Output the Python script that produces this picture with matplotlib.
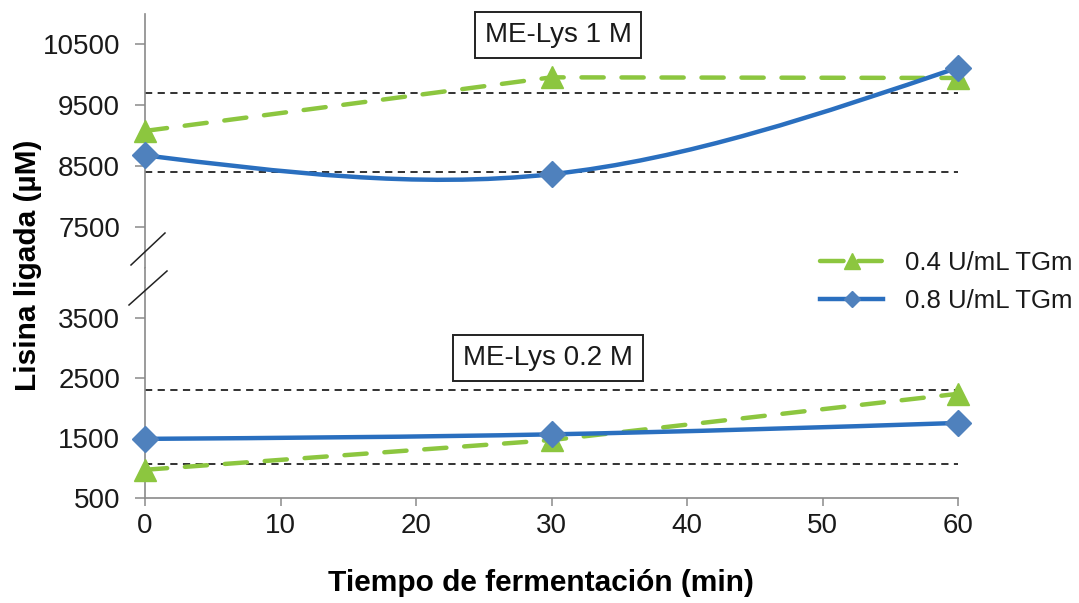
import matplotlib
matplotlib.use("Agg")
import matplotlib.pyplot as plt
from matplotlib.path import Path
from matplotlib.patches import PathPatch
from matplotlib.lines import Line2D

plt.rcParams['font.family'] = ['Liberation Sans', 'DejaVu Sans']

# fermentation time (min)
tiempo = [0, 30, 60]

# ME-Lys 1 M (upper panel)
alta_04 = [9080, 9960, 9950]
alta_08 = [8680, 8370, 10120]
ref_alta = [9710, 8400]

# ME-Lys 0.2 M (lower panel)
baja_04 = [970, 1465, 2235]
baja_08 = [1485, 1560, 1750]
ref_baja = [2300, 1065]

ticks_alta = [7500, 8500, 9500, 10500]
ticks_baja = [500, 1500, 2500, 3500]
xticks = [0, 10, 20, 30, 40, 50, 60]

verde = '#8cc63f'
azul = '#2a6fbf'
azul_marca = '#4f81bd'
gris = '#8a8a8a'

W, H = 1079, 603
fig = plt.figure(figsize=(W / 100, H / 100), dpi=100)


def fx(px):
    return px / W


def fy(py):
    return 1 - py / H


x0, x1 = 145, 958
ax_top = fig.add_axes([fx(x0), fy(268), fx(x1 - x0), (268 - 14) / H])
ax_bot = fig.add_axes([fx(x0), fy(498), fx(x1 - x0), (498 - 268) / H])


def suave(ax, xs, ys, **kw):
    # smoothed line: cubic Bezier segments, Catmull-Rom tangents inside,
    # zero curvature at both ends
    pts = list(zip(xs, ys))
    n = len(pts)
    tang = []
    for i in range(1, n - 1):
        tang.append(((pts[i + 1][0] - pts[i - 1][0]) / 6,
                     (pts[i + 1][1] - pts[i - 1][1]) / 6))
    verts = [pts[0]]
    codes = [Path.MOVETO]
    for i in range(n - 1):
        p1, p2 = pts[i], pts[i + 1]
        c1 = c2 = None
        if i > 0:
            t = tang[i - 1]
            c1 = (p1[0] + t[0], p1[1] + t[1])
        if i + 1 < n - 1:
            t = tang[i]
            c2 = (p2[0] - t[0], p2[1] - t[1])
        if c1 is None:
            c1 = ((p1[0] + c2[0]) / 2, (p1[1] + c2[1]) / 2)
        if c2 is None:
            c2 = ((p2[0] + c1[0]) / 2, (p2[1] + c1[1]) / 2)
        verts += [c1, c2, p2]
        codes += [Path.CURVE4] * 3
    ax.add_patch(PathPatch(Path(verts, codes), fill=False, **kw))


def panel(ax, s04, s08, refs):
    for r in refs:
        ax.axhline(r, color='#222222', lw=1.3, ls=(0, (4, 3)), zorder=1)
    ax.plot(tiempo, s04, color=verde, lw=3.2, ls=(0, (5, 4)),
            dash_capstyle='round', marker='^', ms=16, mec=verde,
            clip_on=False, zorder=3)
    suave(ax, tiempo, s08, edgecolor=azul, lw=3.2, capstyle='round', zorder=4)
    ax.plot(tiempo, s08, ls='none', marker='D', ms=13, color=azul_marca,
            mec=azul_marca, clip_on=False, zorder=5)
    ax.set_xlim(0, 60)
    for s in ['top', 'right']:
        ax.spines[s].set_visible(False)
    for s in ['left', 'bottom']:
        ax.spines[s].set_color(gris)
        ax.spines[s].set_linewidth(1.2)
    ax.tick_params(axis='y', length=7, width=1.1, color=gris, pad=11,
                   labelsize=20, labelcolor='#1a1a1a')
    ax.tick_params(axis='x', length=6, width=1.1, color=gris, pad=5,
                   labelsize=20, labelcolor='#1a1a1a')


panel(ax_top, alta_04, alta_08, ref_alta)
panel(ax_bot, baja_04, baja_08, ref_baja)

ax_top.set_ylim(6830, 11000)
ax_top.set_yticks(ticks_alta)
ax_top.spines['bottom'].set_visible(False)
ax_top.tick_params(axis='x', bottom=False, labelbottom=False)

ax_bot.set_ylim(500, 4330)
ax_bot.set_yticks(ticks_baja)
ax_bot.set_xticks(xticks)

caja = dict(boxstyle='square,pad=0.35', fc='white', ec='#222222', lw=1.4)
fig.text(fx(558), fy(35), 'ME-Lys 1 M', fontsize=20, ha='center',
         va='center', bbox=caja, color='#1a1a1a')
fig.text(fx(548), fy(358), 'ME-Lys 0.2 M', fontsize=20, ha='center',
         va='center', bbox=caja, color='#1a1a1a')

# axis break marks
for (a, b), (c, d) in [((131, 265), (165, 233)), ((129, 305), (167, 271))]:
    fig.add_artist(Line2D([fx(a), fx(c)], [fy(b), fy(d)], color='#222222',
                          lw=1.1))

fig.text(fx(28), fy(265), 'Lisina ligada (µM)', rotation=90, fontsize=21.5,
         fontweight='bold', ha='center', va='center')
fig.text(fx(541), fy(583), 'Tiempo de fermentación (min)', fontsize=21.5,
         fontweight='bold', ha='center', va='center')

handles = [
    Line2D([], [], color=verde, lw=3.2, ls=(0, (5.3, 3.3)), marker='^', ms=12,
           dash_capstyle='round'),
    Line2D([], [], color=azul, lw=3.2, marker='D', ms=8, mfc=azul_marca,
           mec=azul_marca),
]
fig.legend(handles, ['0.4 U/mL TGm', '0.8 U/mL TGm'], loc='center left',
           bbox_to_anchor=(fx(797), fy(282)), frameon=False, fontsize=18.5,
           handlelength=2.45, handletextpad=0.85, labelspacing=0.55,
           labelcolor='#1a1a1a')

fig.savefig('out.png', dpi=100)
